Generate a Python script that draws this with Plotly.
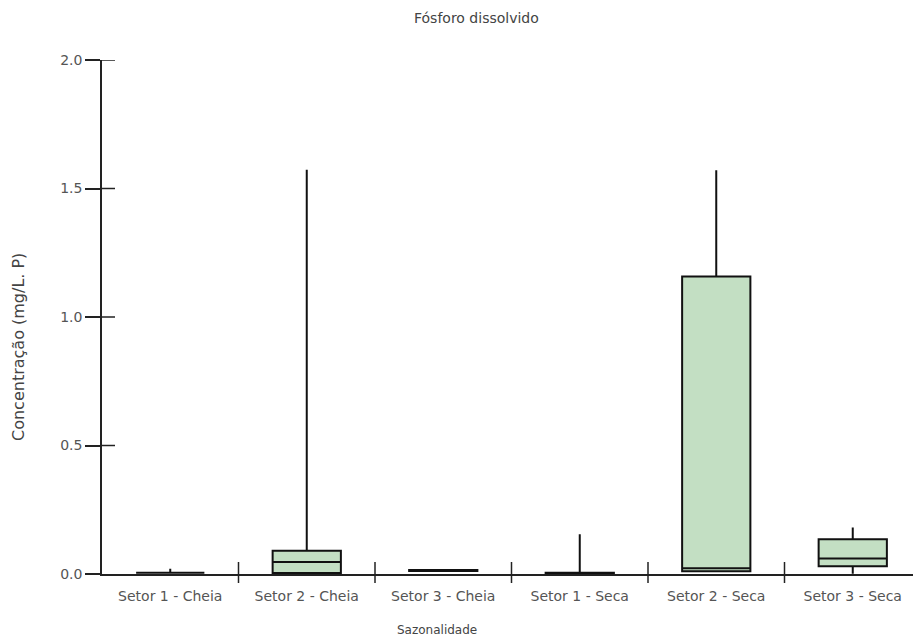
import plotly.graph_objects as go

# Sampling groups (sector / season)
categories = [
    "Setor 1 - Cheia", "Setor 2 - Cheia", "Setor 3 - Cheia",
    "Setor 1 - Seca", "Setor 2 - Seca", "Setor 3 - Seca",
]

# Box statistics, dissolved phosphorus (mg/L P)
minimum = [0.005, 0.004, 0.012, 0.001, 0.011, 0.001]
q1 = [0.005, 0.004, 0.012, 0.001, 0.011, 0.030]
median = [0.005, 0.047, 0.014, 0.003, 0.022, 0.060]
q3 = [0.005, 0.090, 0.016, 0.005, 1.158, 0.135]
maximum = [0.020, 1.573, 0.016, 0.155, 1.571, 0.181]

y_ticks = [0.0, 0.5, 1.0, 1.5, 2.0]
y_tick_text = ["0.0", "0.5", "1.0", "1.5", "2.0"]

W, H = 913, 638
ML, MT, MB, MR = 102, 60, 64, 0
plot_w = W - ML - MR
plot_h = H - MT - MB
cat_px = 136.5
x_span = plot_w / cat_px  # number of category slots visible

axis_col = "#222222"
text_col = "#555555"
fill_col = "#c3dfc3"
font_fam = "DejaVu Sans"

fig = go.Figure()
for i, cat in enumerate(categories):
    fig.add_trace(go.Box(
        x=[cat],
        q1=[q1[i]], median=[median[i]], q3=[q3[i]],
        lowerfence=[minimum[i]], upperfence=[maximum[i]],
        width=0.5,
        fillcolor=fill_col,
        line=dict(color="#111111", width=2),
        whiskerwidth=0,
        boxpoints=False,
        showlegend=False,
        hoverinfo="skip",
    ))

# inner halves of the y tick marks (ticks cross the axis line)
shapes = []
for v in y_ticks[1:]:
    shapes.append(dict(type="line", xref="paper", yref="y",
                       x0=0, x1=13 / plot_w, y0=v, y1=v,
                       line=dict(color=axis_col, width=1.5)))
# separators between categories, crossing the x axis line
for i in range(len(categories) - 1):
    xp = (i + 1) / x_span
    shapes.append(dict(type="line", xref="paper", yref="paper",
                       x0=xp, x1=xp, y0=-9 / plot_h, y1=12 / plot_h,
                       line=dict(color=axis_col, width=1.5)))

fig.update_layout(
    width=W, height=H,
    margin=dict(l=ML, r=MR, t=MT, b=MB, pad=0),
    paper_bgcolor="white", plot_bgcolor="white",
    font=dict(family=font_fam, size=14, color=text_col),
    shapes=shapes,
    xaxis=dict(
        type="category",
        categoryorder="array", categoryarray=categories,
        range=[-0.5, -0.5 + x_span],
        showgrid=False, zeroline=False,
        showline=True, linecolor=axis_col, linewidth=1.5,
        ticks="", ticklabelstandoff=8,
        tickfont=dict(family=font_fam, size=14, color=text_col),
    ),
    yaxis=dict(
        range=[0, 2.0],
        tickvals=y_ticks, ticktext=y_tick_text,
        showgrid=False, zeroline=False,
        showline=True, linecolor=axis_col, linewidth=1.5,
        ticks="outside", ticklen=15, tickcolor=axis_col, tickwidth=1.5,
        tickfont=dict(family=font_fam, size=14, color=text_col),
    ),
    annotations=[
        dict(text="Fósforo dissolvido", xref="paper", yref="paper",
             x=(476 - ML) / plot_w, y=1 + (MT - 18) / plot_h,
             showarrow=False, xanchor="center", yanchor="middle",
             font=dict(family=font_fam, size=14, color="#444444")),
        dict(text="Concentração (mg/L. P)", xref="paper", yref="paper",
             x=(18 - ML) / plot_w, y=(H - MB - 347) / plot_h,
             showarrow=False, textangle=-90,
             xanchor="center", yanchor="middle",
             font=dict(family=font_fam, size=16, color="#444444")),
        dict(text="Sazonalidade", xref="paper", yref="paper",
             x=(437 - ML) / plot_w, y=-(630 - (H - MB)) / plot_h,
             showarrow=False, xanchor="center", yanchor="middle",
             font=dict(family=font_fam, size=12, color="#444444")),
    ],
)

fig.write_html("out.html")
